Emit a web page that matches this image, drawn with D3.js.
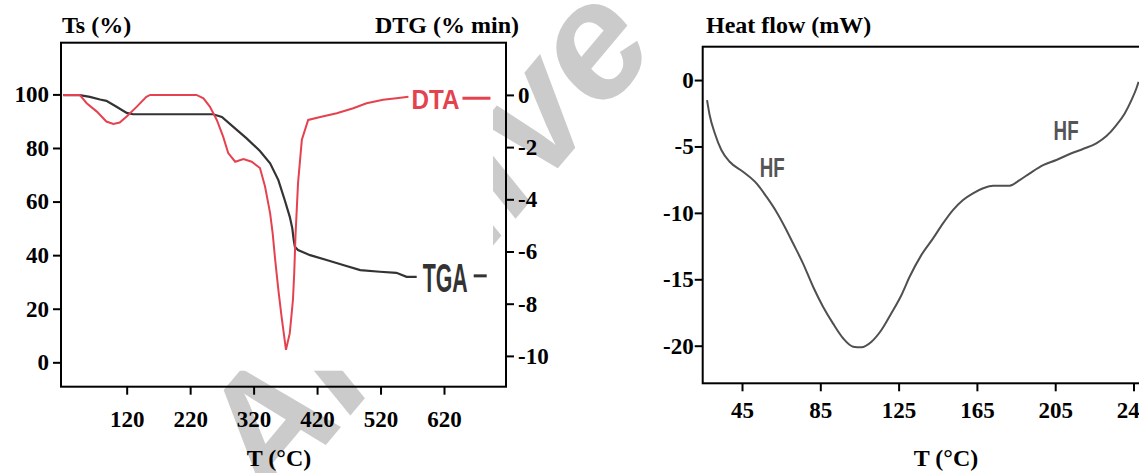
<!DOCTYPE html>
<html>
<head>
<meta charset="utf-8">
<script src="https://cdn.jsdelivr.net/npm/d3@7"></script>
<style>
body { margin: 0; background: #fff; }
.axis text { font-family: "Liberation Serif", "Times New Roman", serif; font-weight: bold; font-size: 23px; fill: #000; }
.axis line { stroke: #000; stroke-width: 2; }
.axis path { display: none; }
.title { font-family: "Liberation Serif", "Times New Roman", serif; font-weight: bold; font-size: 24px; fill: #000; }
.tag { font-family: "Liberation Sans Narrow", "Liberation Sans", sans-serif; font-weight: bold; }
</style>
</head>
<body>
<script>
const width = 1139;
const height = 473;

// left panel: TGA (%) and DTA (DTG axis) vs T
const tgaTemp = [20, 46, 62, 78, 88, 104, 120, 130, 256, 270, 288, 309, 330, 346, 359, 369, 377, 381, 383, 385, 390, 409, 435, 461, 488, 519, 545, 561, 577];
const tgaMass = [99.7, 99.7, 99.1, 98.1, 97.6, 95.4, 93.1, 92.6, 92.6, 91.6, 87.9, 83.6, 78.9, 74.3, 68, 60.6, 54.3, 50, 46, 43.1, 41.9, 40.0, 38.2, 36.3, 34.4, 33.8, 33.4, 31.9, 31.9];

const dtaTemp = [20, 46, 57, 73, 88, 99, 109, 120, 136, 151, 157, 230, 241, 251, 262, 272, 280, 291, 304, 317, 330, 338, 346, 350, 354, 359, 364, 371, 377, 382, 384, 386, 390, 396, 406, 425, 451, 477, 498, 524, 545, 564];
const dtaValue = [0, 0, -0.32, -0.64, -1.02, -1.11, -1.06, -0.83, -0.45, -0.07, 0, 0, -0.13, -0.45, -0.96, -1.6, -2.23, -2.56, -2.46, -2.56, -2.8, -3.51, -4.53, -5.3, -6.32, -7.47, -8.49, -9.77, -9.13, -7.85, -6.83, -5.4, -3.38, -1.72, -0.96, -0.85, -0.70, -0.51, -0.32, -0.19, -0.13, -0.07];

const leftXTicks = [120, 220, 320, 420, 520, 620];
const leftYTicks = [0, 20, 40, 60, 80, 100];
const dtgTicks = [0, -2, -4, -6, -8, -10];

// right panel: heat flow vs T
const hfTemp = [27.14, 28.46, 31.1, 34.45, 38.71, 45.51, 52.41, 57.48, 62.55, 66.81, 71.07, 76.15, 81.32, 86.39, 91.47, 96.64, 101.72, 105.98, 111.15, 116.22, 121.29, 126.47, 130.63, 136.52, 142.6, 147.67, 152.75, 157.92, 162.99, 168.17, 173.25, 181.77, 186.84, 192.01, 198.81, 205.61, 212.41, 219.2, 226.0, 231.18, 236.25, 240.51, 243.96, 246.5, 247.62];
const hfFlow = [-1.51, -2.63, -4.01, -5.27, -6.15, -6.90, -7.78, -8.78, -9.91, -11.04, -12.29, -13.80, -15.56, -17.06, -18.32, -19.44, -20.07, -20.12, -19.70, -18.82, -17.56, -16.18, -14.81, -13.2, -11.92, -10.79, -9.79, -9.03, -8.53, -8.15, -7.95, -7.95, -7.53, -7.02, -6.40, -6.02, -5.57, -5.19, -4.77, -4.22, -3.39, -2.51, -1.51, -0.62, -0.13];

const hfXTicks = [45, 85, 125, 165, 205, 245];
const hfYTicks = [0, -5, -10, -15, -20];

const redColor = '#e5424f';
const darkColor = '#333333';

var svg = d3.select('body').append('svg')
    .attr('width', width)
    .attr('height', height);

// faint watermark behind everything
svg.append('text')
    .text('Archive')
    .attr('transform', 'translate(272, 509) rotate(-50)')
    .attr('font-family', 'Liberation Sans, sans-serif')
    .attr('font-style', 'italic')
    .attr('font-weight', 'bold')
    .attr('font-size', 165)
    .attr('fill', '#cbcbcb');

// ---------- left panel ----------
const L = {left: 61, right: 506, top: 42.7, bottom: 386.7};

const xL = d3.scaleLinear().domain([16.5, 717.7]).range([L.left, L.right]);
const yL = d3.scaleLinear().domain([-9.1, 119.3]).range([L.bottom, L.top]);
const yR = d3.scaleLinear().domain([-11.18, 2.0]).range([L.bottom, L.top]);

// plot picture background hides the watermark
svg.append('rect')
    .attr('x', L.left + 2)
    .attr('y', L.top + 2)
    .attr('width', 430)
    .attr('height', 326)
    .attr('fill', '#fff');

svg.append('rect')
    .attr('x', L.left)
    .attr('y', L.top)
    .attr('width', L.right - L.left)
    .attr('height', L.bottom - L.top)
    .attr('fill', 'none')
    .attr('stroke', '#000')
    .attr('stroke-width', 2);

svg.append('g')
    .attr('class', 'axis')
    .attr('transform', `translate(${L.left}, 0)`)
    .call(d3.axisLeft(yL).tickValues(leftYTicks).tickSize(8).tickPadding(4).tickFormat(d => String(d)));

svg.append('g')
    .attr('class', 'axis')
    .attr('transform', `translate(${L.right}, 0)`)
    .call(d3.axisRight(yR).tickValues(dtgTicks).tickSize(8).tickPadding(4).tickFormat(d => String(d)));

svg.append('g')
    .attr('class', 'axis')
    .attr('transform', `translate(0, ${L.bottom})`)
    .call(d3.axisBottom(xL).tickValues(leftXTicks).tickSize(8).tickPadding(15.5).tickFormat(d => String(d)));

const tgaData = tgaTemp.map((t, i) => ({t: t, v: tgaMass[i]}));
const dtaData = dtaTemp.map((t, i) => ({t: t, v: dtaValue[i]}));

svg.append('path')
    .datum(tgaData)
    .attr('fill', 'none')
    .attr('stroke', darkColor)
    .attr('stroke-width', 2.2)
    .attr('d', d3.line().x(d => xL(d.t)).y(d => yL(d.v)));

svg.append('path')
    .datum(dtaData)
    .attr('fill', 'none')
    .attr('stroke', redColor)
    .attr('stroke-width', 2)
    .attr('d', d3.line().x(d => xL(d.t)).y(d => yR(d.v)));

// curve tags
const dtaEnd = dtaData[dtaData.length - 1];
const dtaX = xL(dtaEnd.t), dtaY = yR(dtaEnd.v);
svg.append('text')
    .attr('class', 'tag')
    .text('DTA')
    .attr('x', dtaX + 3)
    .attr('y', dtaY + 12)
    .attr('font-size', 28)
    .attr('textLength', 48)
    .attr('lengthAdjust', 'spacingAndGlyphs')
    .attr('fill', redColor);
svg.append('line')
    .attr('x1', dtaX + 54).attr('x2', dtaX + 82)
    .attr('y1', dtaY + 1.5).attr('y2', dtaY + 1.5)
    .attr('stroke', redColor).attr('stroke-width', 3);

const tgaEnd = tgaData[tgaData.length - 1];
const tgaX = xL(tgaEnd.t), tgaY = yL(tgaEnd.v);
svg.append('text')
    .attr('class', 'tag')
    .text('TGA')
    .attr('x', tgaX + 6)
    .attr('y', tgaY + 15)
    .attr('font-size', 41)
    .attr('textLength', 45)
    .attr('lengthAdjust', 'spacingAndGlyphs')
    .attr('fill', darkColor);
svg.append('line')
    .attr('x1', tgaX + 57).attr('x2', tgaX + 70)
    .attr('y1', tgaY - 1).attr('y2', tgaY - 1)
    .attr('stroke', darkColor).attr('stroke-width', 3);

svg.append('text').attr('class', 'title').text('Ts (%)')
    .attr('x', 62).attr('y', 33);
svg.append('text').attr('class', 'title').text('DTG (% min)')
    .attr('x', 519).attr('y', 33).attr('text-anchor', 'end');
svg.append('text').attr('class', 'title').text('T (°C)')
    .attr('x', 279).attr('y', 466).attr('text-anchor', 'middle');

// ---------- right panel ----------
const R = {left: 702.7, top: 46.7, bottom: 383.3};

const xH = d3.scaleLinear().domain([24.92, 258.5]).range([R.left, R.left + 233.58 * 1.9575]);
const yH = d3.scaleLinear().domain([-22.83, 2.51]).range([R.bottom, R.top]);

svg.append('rect')
    .attr('x', R.left)
    .attr('y', R.top)
    .attr('width', 480)
    .attr('height', R.bottom - R.top)
    .attr('fill', 'none')
    .attr('stroke', '#000')
    .attr('stroke-width', 2);

svg.append('g')
    .attr('class', 'axis')
    .attr('transform', `translate(${R.left}, 0)`)
    .call(d3.axisLeft(yH).tickValues(hfYTicks).tickSize(8).tickPadding(1).tickFormat(d => String(d)));

svg.append('g')
    .attr('class', 'axis')
    .attr('transform', `translate(0, ${R.bottom})`)
    .call(d3.axisBottom(xH).tickValues(hfXTicks).tickSize(8).tickPadding(10.5).tickFormat(d => String(d)));

const hfData = hfTemp.map((t, i) => ({t: t, v: hfFlow[i]}));

svg.append('path')
    .datum(hfData)
    .attr('fill', 'none')
    .attr('stroke', '#505050')
    .attr('stroke-width', 2)
    .attr('d', d3.line().curve(d3.curveMonotoneX).x(d => xH(d.t)).y(d => yH(d.v)));

svg.append('text').attr('class', 'tag').text('HF')
    .attr('x', xH(54.03)).attr('y', yH(-7.28))
    .attr('font-size', 27).attr('textLength', 25).attr('lengthAdjust', 'spacingAndGlyphs')
    .attr('fill', '#555');
svg.append('text').attr('class', 'tag').text('HF')
    .attr('x', xH(204.19)).attr('y', yH(-4.51))
    .attr('font-size', 27).attr('textLength', 25).attr('lengthAdjust', 'spacingAndGlyphs')
    .attr('fill', '#555');

svg.append('text').attr('class', 'title').text('Heat flow (mW)')
    .attr('x', 706).attr('y', 33);
svg.append('text').attr('class', 'title').text('T (°C)')
    .attr('x', 946).attr('y', 466).attr('text-anchor', 'middle');
</script>
</body>
</html>
